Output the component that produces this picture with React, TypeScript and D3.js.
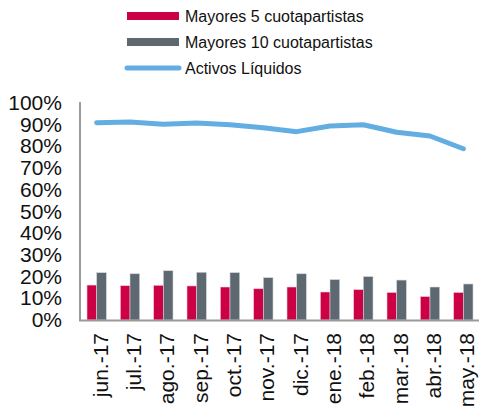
import React from "react";
import * as d3 from "d3";

const months = ["jun.-17","jul.-17","ago.-17","sep.-17","oct.-17","nov.-17","dic.-17","ene.-18","feb.-18","mar.-18","abr.-18","may.-18"];
const top5 = [16.1, 15.8, 16.0, 15.7, 15.2, 14.4, 15.2, 12.9, 14.0, 12.7, 10.8, 12.7];
const top10 = [21.8, 21.3, 22.7, 22.0, 21.8, 19.5, 21.3, 18.6, 20.0, 18.4, 15.2, 16.6];
const liquidos = [90.9, 91.2, 90.2, 90.8, 90.0, 88.6, 86.8, 89.4, 90.0, 86.5, 84.8, 78.9];
const yTicks = [0, 10, 20, 30, 40, 50, 60, 70, 80, 90, 100];
const seriesNames = ["Mayores 5 cuotapartistas", "Mayores 10 cuotapartistas", "Activos Líquidos"];

const RED = "#CC0044";
const GRAY = "#5E6870";
const BLUE = "#62AEE3";
const FONT = "'Liberation Sans', Arial, sans-serif";

export default function App() {
  const W = 479, H = 407;
  const x = d3.scaleBand<string>().domain(months).range([80, 480]).padding(0);
  const bw = x.bandwidth();
  const sub = d3.scaleBand<string>().domain(["a", "b"]).range([bw * 0.21, bw * 0.79]).padding(0);
  const y = d3.scaleLinear().domain([0, 100]).range([320, 103]);
  const line = d3.line<number>()
    .x((_, i) => (x(months[i]) as number) + bw / 2)
    .y((d) => y(d));

  return (
    <svg width={W} height={H} style={{ position: "absolute", left: 0, top: 0, background: "#fff" }} fontFamily={FONT}>
      {/* legend */}
      <g>
        <rect x={127} y={12} width={52} height={8} fill={RED} />
        <text x={185} y={22} fontSize={16} fill="#111">{seriesNames[0]}</text>
        <rect x={127} y={38} width={52} height={8} fill={GRAY} />
        <text x={185} y={48} fontSize={16} fill="#111">{seriesNames[1]}</text>
        <line x1={127} x2={179} y1={68} y2={68} stroke={BLUE} strokeWidth={5} strokeLinecap="round" />
        <text x={185} y={74} fontSize={16} fill="#111">{seriesNames[2]}</text>
      </g>
      {/* y labels */}
      {yTicks.map((t) => (
        <text key={t} x={62} y={y(t) + 7} textAnchor="end" fontSize={21} fill="#111">{t}%</text>
      ))}
      {/* bars */}
      {months.map((m, i) => (
        <g key={m} transform={`translate(${x(m)},0)`}>
          <rect x={sub("a")} y={y(top5[i])} width={sub.bandwidth()} height={y(0) - y(top5[i])} fill={RED} stroke="#f3c9d6" strokeWidth={0.6} />
          <rect x={sub("b")} y={y(top10[i])} width={sub.bandwidth()} height={y(0) - y(top10[i])} fill={GRAY} stroke="#d0d4d7" strokeWidth={0.6} />
        </g>
      ))}
      {/* axes */}
      <line x1={80} x2={80} y1={102} y2={321} stroke="#9a9a9a" strokeWidth={2} />
      <line x1={79} x2={479} y1={320.5} y2={320.5} stroke="#9a9a9a" strokeWidth={2} />
      {/* line */}
      <path d={line(liquidos) || ""} fill="none" stroke={BLUE} strokeWidth={5} strokeLinecap="round" strokeLinejoin="round" />
      {/* x labels */}
      {months.map((m) => {
        const cx = (x(m) as number) + bw / 2 + 11;
        return (
          <text key={m} transform={`translate(${cx},333) rotate(-90)`} textAnchor="end" fontSize={21} fill="#111">{m}</text>
        );
      })}
    </svg>
  );
}
